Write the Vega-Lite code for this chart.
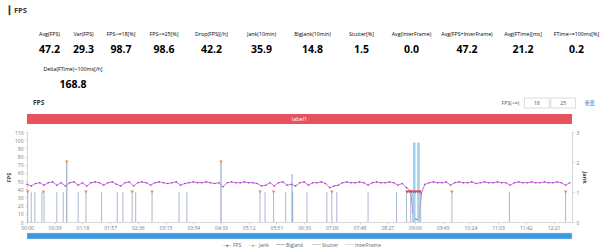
{
"$schema": "https://vega.github.io/schema/vega-lite/v6.json",
"background": "white",
"padding": {"left": 6, "top": 6, "right": 0, "bottom": 0},
"title": {"text": "┃ FPS", "anchor": "start", "frame": "bounds", "fontSize": 7.5, "fontWeight": "bold", "color": "#333333", "offset": 13, "dx": 1},
"datasets": {
"stats": [
{"metric": "Avg(FPS)", "value": 47.2},
{"metric": "Var(FPS)", "value": 29.3},
{"metric": "FPS>=18[%]", "value": 98.7},
{"metric": "FPS>=25[%]", "value": 98.6},
{"metric": "Drop(FPS)[/h]", "value": 42.2},
{"metric": "Jank(10min)", "value": 35.9},
{"metric": "BigJank(10min)", "value": 14.8},
{"metric": "Stutter[%]", "value": 1.5},
{"metric": "Avg(InterFrame)", "value": 0.0},
{"metric": "Avg(FPS+InterFrame)", "value": 47.2},
{"metric": "Avg(FTime)[ms]", "value": 21.2},
{"metric": "FTime>=100ms[%]", "value": 0.2},
{"metric": "Delta(FTime)>100ms[/h]", "value": 168.8}
],
"hdr": [{"t": "FPS"}],
"ctrl": [{"item": "FPS(>=)", "kind": "label"}, {"item": "18", "kind": "box"}, {"item": "25", "kind": "box"}, {"item": "重置", "kind": "link"}],
"bar": [{"label": "label1", "from": 0, "to": 767}],
"slider": [{"from": 0, "to": 767}],
"legend": [{"series": "FPS"}, {"series": "Jank"}, {"series": "BigJank"}, {"series": "Stutter"}, {"series": "InterFrame"}],
"fps": [
{"t":0,"fps":46},{"t":6,"fps":44},{"t":12,"fps":47},{"t":18,"fps":48},{"t":24,"fps":45},{"t":30,"fps":48},{"t":36,"fps":49},{"t":42,"fps":45},{"t":48,"fps":48},{"t":54,"fps":44},
{"t":60,"fps":48},{"t":66,"fps":49},{"t":72,"fps":45},{"t":78,"fps":48},{"t":84,"fps":44},{"t":90,"fps":48},{"t":96,"fps":49},{"t":102,"fps":48},{"t":108,"fps":45},{"t":114,"fps":48},
{"t":120,"fps":49},{"t":126,"fps":46},{"t":132,"fps":44},{"t":138,"fps":48},{"t":144,"fps":49},{"t":150,"fps":44},{"t":156,"fps":48},{"t":162,"fps":49},{"t":168,"fps":48},{"t":174,"fps":45},
{"t":180,"fps":48},{"t":186,"fps":49},{"t":192,"fps":48},{"t":198,"fps":47},{"t":204,"fps":48},{"t":210,"fps":49},{"t":216,"fps":45},{"t":222,"fps":47},{"t":228,"fps":48},{"t":234,"fps":49},
{"t":240,"fps":48},{"t":246,"fps":48},{"t":252,"fps":49},{"t":258,"fps":48},{"t":264,"fps":47},{"t":270,"fps":48},{"t":276,"fps":43},{"t":282,"fps":48},{"t":288,"fps":49},{"t":294,"fps":48},
{"t":300,"fps":48},{"t":306,"fps":49},{"t":312,"fps":48},{"t":318,"fps":48},{"t":324,"fps":47},{"t":330,"fps":44},{"t":336,"fps":45},{"t":342,"fps":48},{"t":348,"fps":44},{"t":354,"fps":48},
{"t":360,"fps":49},{"t":366,"fps":45},{"t":372,"fps":46},{"t":378,"fps":44},{"t":384,"fps":48},{"t":390,"fps":49},{"t":396,"fps":45},{"t":402,"fps":48},{"t":408,"fps":48},{"t":414,"fps":49},
{"t":420,"fps":47},{"t":426,"fps":42},{"t":432,"fps":44},{"t":438,"fps":45},{"t":444,"fps":48},{"t":450,"fps":49},{"t":456,"fps":48},{"t":462,"fps":48},{"t":468,"fps":49},{"t":474,"fps":48},
{"t":480,"fps":45},{"t":486,"fps":48},{"t":492,"fps":49},{"t":498,"fps":48},{"t":504,"fps":48},{"t":510,"fps":49},{"t":516,"fps":48},{"t":522,"fps":45},{"t":528,"fps":47},{"t":534,"fps":42},
{"t":540,"fps":38},{"t":543,"fps":12},{"t":546,"fps":4},{"t":549,"fps":3},{"t":552,"fps":6},{"t":555,"fps":35},{"t":560,"fps":46},{"t":566,"fps":48},{"t":572,"fps":49},{"t":578,"fps":48},
{"t":584,"fps":48},{"t":590,"fps":49},{"t":596,"fps":45},{"t":602,"fps":48},{"t":608,"fps":49},{"t":614,"fps":48},{"t":620,"fps":48},{"t":626,"fps":49},{"t":632,"fps":47},{"t":638,"fps":48},
{"t":644,"fps":49},{"t":650,"fps":48},{"t":656,"fps":48},{"t":662,"fps":49},{"t":668,"fps":48},{"t":674,"fps":48},{"t":680,"fps":45},{"t":686,"fps":48},{"t":692,"fps":49},{"t":698,"fps":48},
{"t":704,"fps":48},{"t":710,"fps":49},{"t":716,"fps":48},{"t":722,"fps":48},{"t":728,"fps":49},{"t":734,"fps":48},{"t":740,"fps":48},{"t":746,"fps":49},{"t":752,"fps":48},{"t":758,"fps":45},{"t":764,"fps":48}
],
"spikes": [
{"kind":"jank","t":1,"v":1},{"kind":"jank","t":6,"v":1},{"kind":"jank","t":11,"v":1},{"kind":"jank","t":21,"v":1},{"kind":"jank","t":24,"v":1},{"kind":"jank","t":42,"v":1},{"kind":"jank","t":51,"v":1},{"kind":"jank","t":72,"v":1},{"kind":"jank","t":83,"v":1},{"kind":"jank","t":105,"v":1},
{"kind":"jank","t":127,"v":1},{"kind":"jank","t":135,"v":1},{"kind":"jank","t":148,"v":1},{"kind":"jank","t":153,"v":1},{"kind":"jank","t":176,"v":1},{"kind":"jank","t":214,"v":1},{"kind":"jank","t":225,"v":1},{"kind":"jank","t":328,"v":1},{"kind":"jank","t":335,"v":1},{"kind":"jank","t":347,"v":1},
{"kind":"jank","t":364,"v":1},{"kind":"jank","t":374,"v":1},{"kind":"jank","t":394,"v":1},{"kind":"jank","t":422,"v":1},{"kind":"jank","t":429,"v":1},{"kind":"jank","t":436,"v":1},{"kind":"jank","t":480,"v":1},{"kind":"jank","t":520,"v":1},{"kind":"jank","t":534,"v":1},{"kind":"jank","t":540,"v":1},
{"kind":"jank","t":543,"v":1},{"kind":"jank","t":554,"v":1},{"kind":"jank","t":598,"v":1},{"kind":"jank","t":679,"v":1},{"kind":"jank","t":758,"v":1},
{"kind":"big","t":56,"v":2},{"kind":"big","t":273,"v":2},
{"kind":"up","t":373,"v":1.6},
{"kind":"stut","t":545,"v":2.65},{"kind":"stut","t":551,"v":2.65}
],
"marks": [
{"kind":"jank","t":1,"v":1},{"kind":"jank","t":23,"v":1},{"kind":"jank","t":83,"v":1},{"kind":"jank","t":148,"v":1},{"kind":"jank","t":176,"v":1},{"kind":"jank","t":328,"v":1},{"kind":"jank","t":347,"v":1},{"kind":"jank","t":429,"v":1},{"kind":"jank","t":598,"v":1},{"kind":"jank","t":758,"v":1},
{"kind":"jank","t":56,"v":2},{"kind":"jank","t":273,"v":2},
{"kind":"stutter","t":535,"v":1},{"kind":"stutter","t":538,"v":1},{"kind":"stutter","t":541,"v":1},{"kind":"stutter","t":544,"v":1},{"kind":"stutter","t":547,"v":1},{"kind":"stutter","t":550,"v":1},{"kind":"stutter","t":553,"v":1}
]
},
"spacing": 5,
"vconcat": [
{"spacing": 0, "hconcat": [
{"width": 6, "height": 30, "data": {"values": []}, "mark": "rect"},
{"width": 33, "height": 30, "data": {"name": "stats"}, "transform": [{"filter": {"field": "metric", "equal": "Avg(FPS)"}}], "layer": [{"mark": {"type": "text", "style": "lbl"}, "encoding": {"text": {"field": "metric"}}}, {"mark": {"type": "text", "style": "val"}, "encoding": {"text": {"field": "value", "type": "quantitative", "format": ".1f"}}}]},
{"width": 35, "height": 30, "data": {"name": "stats"}, "transform": [{"filter": {"field": "metric", "equal": "Var(FPS)"}}], "layer": [{"mark": {"type": "text", "style": "lbl"}, "encoding": {"text": {"field": "metric"}}}, {"mark": {"type": "text", "style": "val"}, "encoding": {"text": {"field": "value", "type": "quantitative", "format": ".1f"}}}]},
{"width": 40, "height": 30, "data": {"name": "stats"}, "transform": [{"filter": {"field": "metric", "equal": "FPS>=18[%]"}}], "layer": [{"mark": {"type": "text", "style": "lbl"}, "encoding": {"text": {"field": "metric"}}}, {"mark": {"type": "text", "style": "val"}, "encoding": {"text": {"field": "value", "type": "quantitative", "format": ".1f"}}}]},
{"width": 46, "height": 30, "data": {"name": "stats"}, "transform": [{"filter": {"field": "metric", "equal": "FPS>=25[%]"}}], "layer": [{"mark": {"type": "text", "style": "lbl"}, "encoding": {"text": {"field": "metric"}}}, {"mark": {"type": "text", "style": "val"}, "encoding": {"text": {"field": "value", "type": "quantitative", "format": ".1f"}}}]},
{"width": 49, "height": 30, "data": {"name": "stats"}, "transform": [{"filter": {"field": "metric", "equal": "Drop(FPS)[/h]"}}], "layer": [{"mark": {"type": "text", "style": "lbl"}, "encoding": {"text": {"field": "metric"}}}, {"mark": {"type": "text", "style": "val"}, "encoding": {"text": {"field": "value", "type": "quantitative", "format": ".1f"}}}]},
{"width": 51, "height": 30, "data": {"name": "stats"}, "transform": [{"filter": {"field": "metric", "equal": "Jank(10min)"}}], "layer": [{"mark": {"type": "text", "style": "lbl"}, "encoding": {"text": {"field": "metric"}}}, {"mark": {"type": "text", "style": "val"}, "encoding": {"text": {"field": "value", "type": "quantitative", "format": ".1f"}}}]},
{"width": 51, "height": 30, "data": {"name": "stats"}, "transform": [{"filter": {"field": "metric", "equal": "BigJank(10min)"}}], "layer": [{"mark": {"type": "text", "style": "lbl"}, "encoding": {"text": {"field": "metric"}}}, {"mark": {"type": "text", "style": "val"}, "encoding": {"text": {"field": "value", "type": "quantitative", "format": ".1f"}}}]},
{"width": 47, "height": 30, "data": {"name": "stats"}, "transform": [{"filter": {"field": "metric", "equal": "Stutter[%]"}}], "layer": [{"mark": {"type": "text", "style": "lbl"}, "encoding": {"text": {"field": "metric"}}}, {"mark": {"type": "text", "style": "val"}, "encoding": {"text": {"field": "value", "type": "quantitative", "format": ".1f"}}}]},
{"width": 53, "height": 30, "data": {"name": "stats"}, "transform": [{"filter": {"field": "metric", "equal": "Avg(InterFrame)"}}], "layer": [{"mark": {"type": "text", "style": "lbl"}, "encoding": {"text": {"field": "metric"}}}, {"mark": {"type": "text", "style": "val"}, "encoding": {"text": {"field": "value", "type": "quantitative", "format": ".1f"}}}]},
{"width": 58, "height": 30, "data": {"name": "stats"}, "transform": [{"filter": {"field": "metric", "equal": "Avg(FPS+InterFrame)"}}], "layer": [{"mark": {"type": "text", "style": "lbl"}, "encoding": {"text": {"field": "metric"}}}, {"mark": {"type": "text", "style": "val"}, "encoding": {"text": {"field": "value", "type": "quantitative", "format": ".1f"}}}]},
{"width": 54, "height": 30, "data": {"name": "stats"}, "transform": [{"filter": {"field": "metric", "equal": "Avg(FTime)[ms]"}}], "layer": [{"mark": {"type": "text", "style": "lbl"}, "encoding": {"text": {"field": "metric"}}}, {"mark": {"type": "text", "style": "val"}, "encoding": {"text": {"field": "value", "type": "quantitative", "format": ".1f"}}}]},
{"width": 53, "height": 30, "data": {"name": "stats"}, "transform": [{"filter": {"field": "metric", "equal": "FTime>=100ms[%]"}}], "layer": [{"mark": {"type": "text", "style": "lbl"}, "encoding": {"text": {"field": "metric"}}}, {"mark": {"type": "text", "style": "val"}, "encoding": {"text": {"field": "value", "type": "quantitative", "format": ".1f"}}}]}
]},
{"spacing": 0, "hconcat": [
{"width": 6, "height": 30, "data": {"values": []}, "mark": "rect"},
{"width": 80, "height": 30, "data": {"name": "stats"}, "transform": [{"filter": {"field": "metric", "equal": "Delta(FTime)>100ms[/h]"}}], "layer": [{"mark": {"type": "text", "style": "lbl"}, "encoding": {"text": {"field": "metric"}}}, {"mark": {"type": "text", "style": "val"}, "encoding": {"text": {"field": "value", "type": "quantitative", "format": ".1f"}}}]}
]},
{"spacing": 0, "hconcat": [
{"width": 471, "height": 10, "data": {"name": "hdr"}, "mark": {"type": "text", "align": "left", "dx": 6, "fontSize": 6.5, "fontWeight": "bold", "fill": "#333333"}, "encoding": {"x": {"field": "t", "type": "nominal", "axis": null, "scale": {"type": "band", "paddingInner": 0, "paddingOuter": 0}, "bandPosition": 0}, "text": {"field": "t"}}},
{"width": 104, "height": 10, "data": {"name": "ctrl"}, "encoding": {"x": {"field": "item", "type": "nominal", "axis": null, "sort": null, "scale": {"type": "band", "domain": ["FPS(>=)", "18", "25", "重置"], "paddingInner": 0.06, "paddingOuter": 0}}}, "layer": [
{"transform": [{"filter": {"field": "kind", "equal": "box"}}], "mark": {"type": "rect", "fill": "#ffffff", "stroke": "#cccccc", "strokeWidth": 0.7}, "encoding": {}},
{"mark": {"type": "text", "fontSize": 5.2, "font": "Open Sans, Noto Sans CJK SC, sans-serif"}, "encoding": {"text": {"field": "item"}, "color": {"condition": {"test": "datum.kind == 'link'", "value": "#3b7dd8"}, "value": "#555555"}}}
]}
]},
{"bounds": "flush", "spacing": 8, "vconcat": [
{"width": 545, "height": 10, "data": {"name": "bar"}, "layer": [
{"mark": {"type": "rect", "fill": "#e8525d"}, "encoding": {"x": {"field": "from", "type": "quantitative", "scale": {"domain": [0, 767], "nice": false, "zero": false}, "axis": null}, "x2": {"field": "to"}}},
{"mark": {"type": "text", "fill": "#ffffff", "fontSize": 5.5}, "encoding": {"text": {"field": "label"}}}
]},
{"width": 545, "height": 90,
"resolve": {"scale": {"y": "independent"}},
"encoding": {
"x": {"field": "t", "type": "quantitative", "scale": {"domain": [0, 767], "nice": false, "zero": false}, "axis": {"title": null, "values": [0,39,78,117,156,195,234,273,312,351,390,429,468,507,546,585,624,663,702,741], "labelExpr": "utcFormat(datum.value * 1000, '%M:%S')", "labelPadding": 1, "labelFlush": false, "labelOverlap": false}}
},
"layer": [
{"data": {"name": "fps"},
"encoding": {
"y": {"field": "fps", "type": "quantitative", "scale": {"domain": [0, 110], "nice": false}, "axis": {"title": "FPS", "values": [0,10,20,30,40,50,60,70,80,90,100,110], "labelPadding": 2, "titlePadding": 2, "minExtent": 14, "maxExtent": 14, "labelOverlap": false}}
},
"layer": [
{"mark": {"type": "line", "color": "#d05ad6", "strokeWidth": 0.9}, "encoding": {}},
{"mark": {"type": "point", "filled": true, "size": 2.5, "color": "#8a3fc0", "opacity": 1}, "encoding": {}}
]},
{"encoding": {
"y": {"field": "v", "type": "quantitative", "scale": {"domain": [0, 3], "nice": false}, "axis": {"title": "Jank", "orient": "right", "values": [0, 1, 2, 3], "labelPadding": 2, "titlePadding": 3}}
},
"layer": [
{"data": {"name": "spikes"}, "transform": [{"filter": "datum.kind == 'jank'"}], "mark": {"type": "rule", "color": "#a2b0cb", "strokeWidth": 0.9}, "encoding": {"y2": {"datum": 0}}},
{"data": {"name": "spikes"}, "transform": [{"filter": "datum.kind == 'big'"}], "mark": {"type": "rule", "color": "#8797bb", "strokeWidth": 1}, "encoding": {"y2": {"datum": 0}}},
{"data": {"name": "spikes"}, "transform": [{"filter": "datum.kind == 'up'"}], "mark": {"type": "rule", "color": "#6f9fd8", "strokeWidth": 0.9}, "encoding": {"y2": {"datum": 0}}},
{"data": {"name": "spikes"}, "transform": [{"filter": "datum.kind == 'stut'"}], "mark": {"type": "rule", "color": "#9fd1ee", "strokeWidth": 2.6}, "encoding": {"y2": {"datum": 0}}},
{"data": {"name": "marks"}, "transform": [{"filter": "datum.kind == 'jank'"}], "mark": {"type": "point", "shape": "triangle-down", "filled": true, "size": 12, "opacity": 1, "color": "#f08a4b"}, "encoding": {}},
{"data": {"name": "marks"}, "transform": [{"filter": "datum.kind == 'stutter'"}], "mark": {"type": "point", "shape": "triangle-down", "filled": true, "size": 12, "opacity": 1, "color": "#e0404b"}, "encoding": {}}
]}
]},
{"width": 545, "height": 11, "data": {"name": "slider"}, "mark": {"type": "rect", "fill": "#3d9ae0", "stroke": "#c4d3e3", "strokeWidth": 0.5}, "encoding": {"x": {"field": "from", "type": "quantitative", "scale": {"domain": [0, 767], "nice": false, "zero": false}, "axis": null}, "x2": {"field": "to"}, "y": {"datum": "slider", "type": "nominal", "axis": null, "scale": {"type": "band", "domain": ["slider"], "paddingInner": 0, "paddingOuter": 0.4167, "align": 0.6}}}},
{"spacing": 0, "hconcat": [
{"width": 196, "height": 2, "data": {"values": []}, "mark": "rect"},
{"width": 26, "height": 2, "data": {"name": "legend"}, "transform": [{"filter": {"field": "series", "equal": "FPS"}}], "encoding": {"x": {"field": "series", "type": "nominal", "axis": null, "scale": {"type": "band", "paddingInner": 0, "paddingOuter": 0}, "bandPosition": 0}}, "layer": [{"mark": {"type": "text", "align": "left", "dy": -5.5, "fontSize": 5, "fill": "#9b4fc9"}, "encoding": {"text": {"value": "–●–"}}}, {"mark": {"type": "text", "align": "left", "dx": 10, "dy": -5.5, "fontSize": 5, "fill": "#666666"}, "encoding": {"text": {"field": "series"}}}]},
{"width": 27, "height": 2, "data": {"name": "legend"}, "transform": [{"filter": {"field": "series", "equal": "Jank"}}], "encoding": {"x": {"field": "series", "type": "nominal", "axis": null, "scale": {"type": "band", "paddingInner": 0, "paddingOuter": 0}, "bandPosition": 0}}, "layer": [{"mark": {"type": "text", "align": "left", "dy": -5.5, "fontSize": 5, "fill": "#f0994f"}, "encoding": {"text": {"value": "–●–"}}}, {"mark": {"type": "text", "align": "left", "dx": 10, "dy": -5.5, "fontSize": 5, "fill": "#666666"}, "encoding": {"text": {"field": "series"}}}]},
{"width": 36, "height": 2, "data": {"name": "legend"}, "transform": [{"filter": {"field": "series", "equal": "BigJank"}}], "encoding": {"x": {"field": "series", "type": "nominal", "axis": null, "scale": {"type": "band", "paddingInner": 0, "paddingOuter": 0}, "bandPosition": 0}}, "layer": [{"mark": {"type": "text", "align": "left", "dy": -5.5, "fontSize": 4.5, "fill": "#3e4f7a"}, "encoding": {"text": {"value": "——"}}}, {"mark": {"type": "text", "align": "left", "dx": 10, "dy": -5.5, "fontSize": 5, "fill": "#666666"}, "encoding": {"text": {"field": "series"}}}]},
{"width": 33, "height": 2, "data": {"name": "legend"}, "transform": [{"filter": {"field": "series", "equal": "Stutter"}}], "encoding": {"x": {"field": "series", "type": "nominal", "axis": null, "scale": {"type": "band", "paddingInner": 0, "paddingOuter": 0}, "bandPosition": 0}}, "layer": [{"mark": {"type": "text", "align": "left", "dy": -5.5, "fontSize": 4.5, "fill": "#737f8c"}, "encoding": {"text": {"value": "——"}}}, {"mark": {"type": "text", "align": "left", "dx": 10, "dy": -5.5, "fontSize": 5, "fill": "#666666"}, "encoding": {"text": {"field": "series"}}}]},
{"width": 34, "height": 2, "data": {"name": "legend"}, "transform": [{"filter": {"field": "series", "equal": "InterFrame"}}], "encoding": {"x": {"field": "series", "type": "nominal", "axis": null, "scale": {"type": "band", "paddingInner": 0, "paddingOuter": 0}, "bandPosition": 0}}, "layer": [{"mark": {"type": "text", "align": "left", "dy": -5.5, "fontSize": 4.5, "fill": "#9fb0c8"}, "encoding": {"text": {"value": "——"}}}, {"mark": {"type": "text", "align": "left", "dx": 10, "dy": -5.5, "fontSize": 5, "fill": "#666666"}, "encoding": {"text": {"field": "series"}}}]}
]}
]}
],
"config": {
"view": {"stroke": null, "fill": "#ffffff"},
"font": "Open Sans",
"style": {
"lbl": {"fontSize": 5.3, "fill": "#8c8c8c", "dy": -8},
"val": {"fontSize": 10.5, "fontWeight": "bold", "fill": "#333333", "dy": 8}
},
"axis": {"grid": false, "labelFontSize": 5, "labelColor": "#7a7a7a", "tickColor": "#cccccc", "domainColor": "#cccccc", "tickSize": 2, "titleFontSize": 5.5, "titleColor": "#444444", "titleFontWeight": "bold", "domainWidth": 0.8, "tickWidth": 0.8}
}
}
